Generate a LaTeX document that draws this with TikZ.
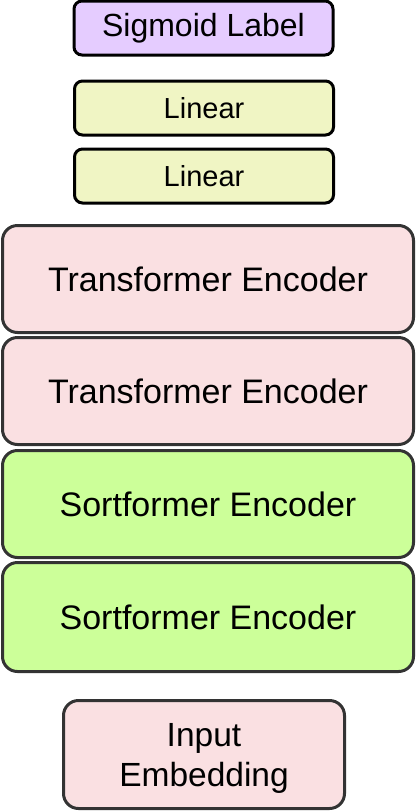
\documentclass[tikz,border=0pt]{standalone}
\usepackage{fontspec}
\setmainfont{Liberation Sans}
\definecolor{purplefill}{HTML}{E5CCFF}
\definecolor{linfill}{HTML}{F0F5C4}
\definecolor{pinkfill}{HTML}{FAE0E2}
\definecolor{greenfill}{HTML}{CCFF99}
\definecolor{darkborder}{HTML}{333333}
\begin{document}
\begin{tikzpicture}[x=1pt,y=-1pt,
  smallbox/.style={draw=black,line width=3pt,rounded corners=8pt,inner sep=0pt,
    minimum width=259pt,minimum height=54pt,align=center},
  bigbox/.style={draw=darkborder,line width=3pt,rounded corners=15pt,inner sep=0pt,
    minimum width=411pt,minimum height=107pt,align=center,font=\fontsize{34}{39}\selectfont}]
\useasboundingbox (0,0) rectangle (416,812);
\node[smallbox,fill=purplefill,font=\fontsize{32}{36}\selectfont] (sig) at (203.5,28) {Sigmoid Label};
\node[smallbox,fill=linfill,font=\fontsize{29}{32}\selectfont] (lin1) at (204,108) {Linear};
\node[smallbox,fill=linfill,font=\fontsize{29}{32}\selectfont] (lin2) at (204,176) {Linear};
\node[bigbox,fill=pinkfill] (tr1) at (208,279) {Transformer Encoder};
\node[bigbox,fill=pinkfill] (tr2) at (208,391) {Transformer Encoder};
\node[bigbox,fill=greenfill] (so1) at (208,504) {Sortformer Encoder};
\node[bigbox,fill=greenfill,minimum height=109pt] (so2) at (208,617) {Sortformer Encoder};
\node[bigbox,fill=pinkfill,minimum width=281pt,minimum height=108pt,
  font=\fontsize{33.5}{40.5}\selectfont] (inp) at (204,754.5) {\rule{0pt}{30.5pt}Input\\Embedding};
\end{tikzpicture}
\end{document}
